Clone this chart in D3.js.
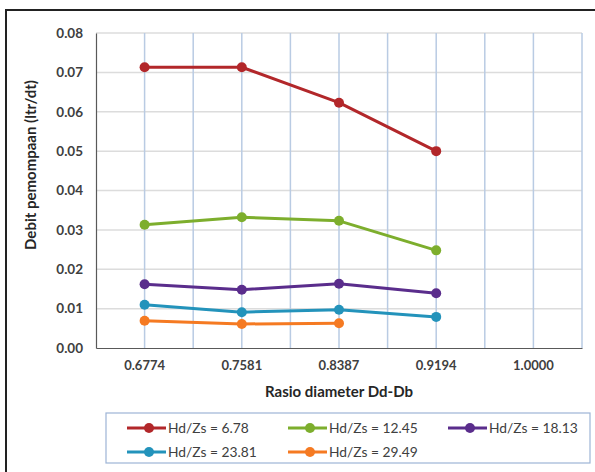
<!DOCTYPE html>
<html><head><meta charset="utf-8">
<script src="https://cdn.jsdelivr.net/npm/d3@7"></script>
<style>body{margin:0;background:#fff}svg{display:block}</style>
</head><body>
<svg id="c" width="595" height="472"></svg>
<script>
const categories = ["0.6774","0.7581","0.8387","0.9194","1.0000"];
const seriesNames = ["Hd/Zs = 6.78","Hd/Zs = 12.45","Hd/Zs = 18.13","Hd/Zs = 23.81","Hd/Zs = 29.49"];
const s1 = [0.0713,0.0713,0.0623,0.0500,null];
const s2 = [0.0313,0.0332,0.0323,0.0248,null];
const s3 = [0.0162,0.0148,0.0163,0.0139,null];
const s4 = [0.0110,0.0091,0.0097,0.0079,null];
const s5 = [0.0069,0.0061,0.0063,null,null];
const yTicks = [0,0.01,0.02,0.03,0.04,0.05,0.06,0.07,0.08];
const colors = ["#B2272A","#7DAE2D","#5A2D8C","#2393BB","#F57A22"];
const series = [s1,s2,s3,s4,s5];

const svg = d3.select("#c");
const font = "Lato, 'Open Sans', sans-serif";
// outer border
svg.append("rect").attr("x",6).attr("y",10).attr("width",620).attr("height",500)
  .attr("fill","#fff").attr("stroke","#222").attr("stroke-width",2);

const L=96,R=582,T=33,B=348;
const x = d3.scaleBand().domain(categories).range([L,R]).padding(0);
const y = d3.scaleLinear().domain([0,0.08]).range([B,T]);

// horizontal gridlines
svg.append("g").selectAll("line").data(yTicks.slice(1)).join("line")
  .attr("x1",L).attr("x2",R).attr("y1",d=>y(d)).attr("y2",d=>y(d))
  .attr("stroke","#dcdcdc").attr("stroke-width",1.5);
// vertical gridlines: band edges and centers
const vgl=[];
categories.forEach(c=>{vgl.push(x(c)); vgl.push(x(c)+x.bandwidth()/2);});
vgl.push(R);
svg.append("g").selectAll("line").data(vgl.slice(1)).join("line")
  .attr("x1",d=>d).attr("x2",d=>d).attr("y1",T).attr("y2",B)
  .attr("stroke","#b9cbe3").attr("stroke-width",1.5);

// axes
const yAxis = d3.axisLeft(y).tickValues(yTicks).tickFormat(d3.format(".2f")).tickSize(0).tickPadding(13);
const gy = svg.append("g").attr("transform",`translate(${L},0)`).call(yAxis);
gy.select(".domain").attr("stroke","#595959").attr("stroke-width",1.2);
gy.selectAll("text").attr("font-family",font).attr("font-size",13.5).attr("font-weight","bold").attr("fill","#404040");
const xAxis = d3.axisBottom(x).tickSize(0).tickPadding(13);
const gx = svg.append("g").attr("transform",`translate(0,${B})`).call(xAxis);
gx.select(".domain").attr("stroke","#595959").attr("stroke-width",1.2);
gx.selectAll("text").attr("font-family",font).attr("font-size",13).attr("font-weight","bold").attr("fill","#404040");

// axis titles
svg.append("text").attr("x",339).attr("y",397).attr("text-anchor","middle")
  .attr("font-family",font).attr("font-size",15).attr("font-weight","bold").attr("fill","#262626")
  .text("Rasio diameter Dd-Db");
svg.append("text").attr("transform","translate(36,165) rotate(-90)").attr("text-anchor","middle")
  .attr("font-family",font).attr("font-size",15).attr("font-weight","bold").attr("fill","#262626")
  .text("Debit pemompaan (ltr/dt)");

// series
const line = d3.line().defined(d=>d.v!=null).x(d=>x(d.c)+x.bandwidth()/2).y(d=>y(d.v));
series.forEach((s,i)=>{
  const pts = s.map((v,j)=>({c:categories[j],v}));
  svg.append("path").datum(pts).attr("d",line).attr("fill","none")
    .attr("stroke",colors[i]).attr("stroke-width",3).attr("stroke-linejoin","round");
  svg.append("g").selectAll("circle").data(pts.filter(d=>d.v!=null)).join("circle")
    .attr("cx",d=>x(d.c)+x.bandwidth()/2).attr("cy",d=>y(d.v)).attr("r",5).attr("fill",colors[i]);
});

// legend
svg.append("rect").attr("x",106).attr("y",413).attr("width",484).attr("height",50)
  .attr("fill","#fff").attr("stroke","#9db4d6").attr("stroke-width",1.2);
const legPos = [[167,428],[328,428],[488,428],[167,452],[328,452]];
seriesNames.forEach((n,i)=>{
  const [tx,ty]=legPos[i];
  const g=svg.append("g");
  g.append("line").attr("x1",tx-40).attr("x2",tx-1).attr("y1",ty).attr("y2",ty)
    .attr("stroke",colors[i]).attr("stroke-width",3);
  g.append("circle").attr("cx",tx-18).attr("cy",ty).attr("r",5).attr("fill",colors[i]);
  g.append("text").attr("x",tx+1).attr("y",ty+5).attr("font-family",font).attr("font-size",13.8)
    .attr("fill","#404040").text(n);
});
</script>
</body></html>
